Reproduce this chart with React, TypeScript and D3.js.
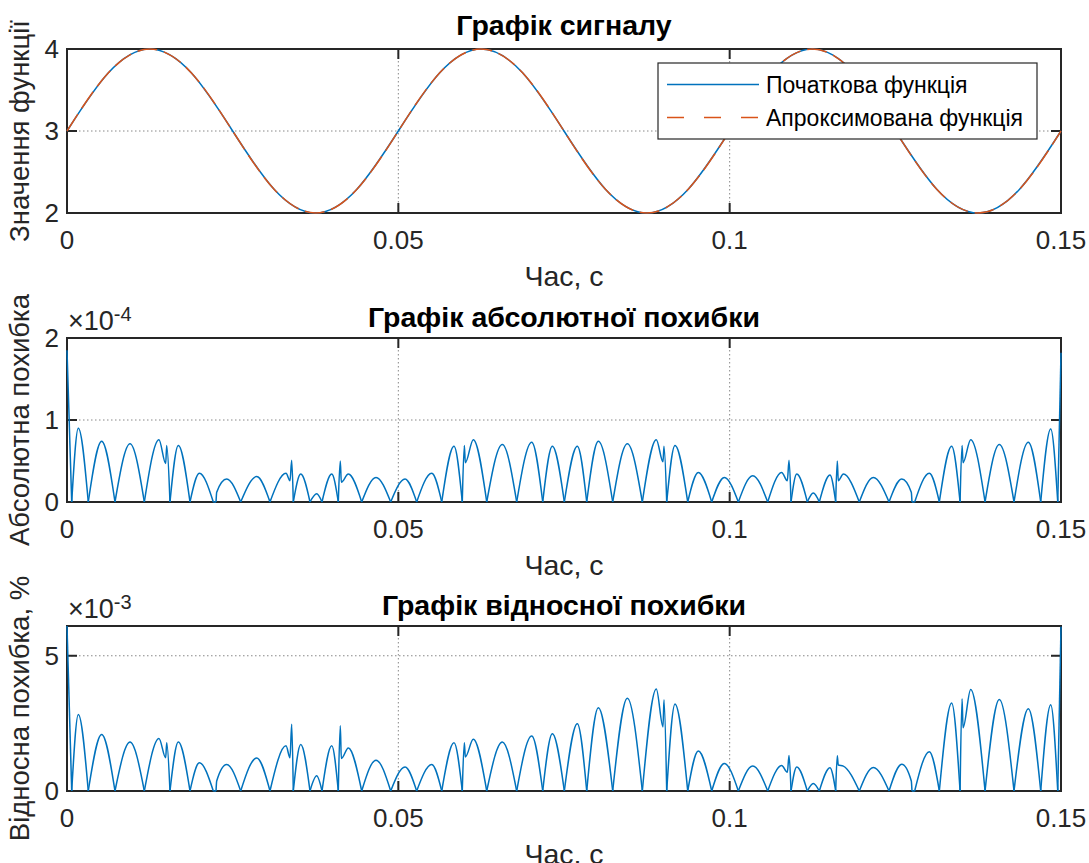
import React from 'react';
import * as d3 from 'd3';

// ---------- data ----------
// time grid of the signal plot, s
const sigT = [
  0, 0.00625, 0.0125, 0.01875, 0.025, 0.03125, 0.0375, 0.04375, 0.05,
  0.05625, 0.0625, 0.06875, 0.075, 0.08125, 0.0875, 0.09375, 0.1,
  0.10625, 0.1125, 0.11875, 0.125, 0.13125, 0.1375, 0.14375, 0.15,
];
// original function values
const origV = [
  3, 3.71, 4, 3.71, 3, 2.29, 2, 2.29, 3,
  3.71, 4, 3.71, 3, 2.29, 2, 2.29, 3,
  3.71, 4, 3.71, 3, 2.29, 2, 2.29, 3,
];
// approximated function values (visually identical)
const approxV = [
  3, 3.71, 4, 3.71, 3, 2.29, 2, 2.29, 3,
  3.71, 4, 3.71, 3, 2.29, 2, 2.29, 3,
  3.71, 4, 3.71, 3, 2.29, 2, 2.29, 3,
];

// key points of the error curves (zeros, peaks, spikes), s
const errT = [
  0, 0.00071, 0.00171, 0.00321, 0.00523, 0.00724, 0.00951, 0.01167, 0.01388, 0.01489,
  0.01505, 0.01554, 0.0168, 0.01856, 0.01997, 0.02208, 0.02249, 0.02259, 0.0241, 0.02621,
  0.02863, 0.03063, 0.03305, 0.03365, 0.03391, 0.03415, 0.03527, 0.03667, 0.03768, 0.03848,
  0.03995, 0.04094, 0.04124, 0.0414, 0.04245, 0.04447, 0.04663, 0.04885, 0.05101, 0.05277,
  0.05504, 0.05655, 0.0584, 0.05965, 0.05996, 0.06011, 0.06131, 0.06334, 0.06569, 0.06786,
  0.07013, 0.07179, 0.07324, 0.07505, 0.07701, 0.07843, 0.08018, 0.08235, 0.08456, 0.08682,
  0.08893, 0.08994, 0.09009, 0.0905, 0.09175, 0.09367, 0.09527, 0.09729, 0.09919, 0.10131,
  0.10348, 0.10574, 0.10785, 0.1087, 0.10896, 0.10926, 0.11012, 0.11172, 0.11262, 0.11353,
  0.11514, 0.116, 0.11624, 0.11639, 0.11715, 0.11956, 0.12168, 0.12405, 0.12596, 0.12741,
  0.12751, 0.12792, 0.13013, 0.13164, 0.1335, 0.13477, 0.13507, 0.13522, 0.13637, 0.13854,
  0.14069, 0.14291, 0.14507, 0.14694, 0.14845, 0.14951, 0.15,
];
// absolute error, x1e-4
const absErr = [
  1.85, 0, 0.9, 0, 0.74, 0, 0.71, 0, 0.76, 0.47,
  0.69, 0, 0.69, 0, 0.35, 0, 0, 0.12, 0.28, 0,
  0.31, 0, 0.35, 0.26, 0.51, 0, 0.34, 0, 0.1, 0,
  0.34, 0, 0.5, 0.24, 0.34, 0, 0.3, 0, 0.28, 0,
  0.35, 0, 0.68, 0, 0.69, 0.48, 0.76, 0, 0.7, 0,
  0.73, 0, 0.68, 0, 0.68, 0, 0.74, 0, 0.71, 0,
  0.76, 0.49, 0.68, 0, 0.69, 0, 0.36, 0, 0.3, 0,
  0.32, 0, 0.36, 0.26, 0.51, 0, 0.34, 0, 0.11, 0,
  0.33, 0, 0.5, 0.26, 0.34, 0, 0.3, 0, 0.28, 0.12,
  0, 0, 0.35, 0, 0.68, 0, 0.69, 0.48, 0.76, 0,
  0.7, 0, 0.73, 0, 0.89, 0, 1.82,
];
// relative error, %, x1e-3
const relErr = [
  6.1, 0, 2.83, 0, 2.09, 0, 1.81, 0, 1.94, 1.23,
  1.78, 0, 1.81, 0, 1.04, 0, 0, 0.37, 0.98, 0,
  1.22, 0, 1.67, 1.23, 2.47, 0, 1.72, 0, 0.56, 0,
  1.67, 0, 2.41, 1.2, 1.59, 0, 1.14, 0, 0.89, 0,
  0.98, 0, 1.78, 0, 1.78, 1.26, 1.91, 0, 1.81, 0,
  2.03, 0, 2.12, 0, 2.49, 0, 3.08, 0, 3.43, 0,
  3.77, 2.37, 3.37, 0, 3.22, 0, 1.48, 0, 1.02, 0,
  0.92, 0, 0.94, 0.69, 1.31, 0, 0.89, 0, 0.28, 0,
  0.86, 0, 1.3, 0.96, 0.92, 0, 0.87, 0, 0.99, 0.37,
  0, 0, 1.45, 0, 3.25, 0, 3.41, 2.34, 3.75, 0,
  3.38, 0, 3.04, 0, 3.19, 0, 6.07,
];

const xTicks = [0, 0.05, 0.1, 0.15];
const xTickLabels = ['0', '0.05', '0.1', '0.15'];
const sigYTicks = [2, 3, 4];
const absYTicks = [0, 1, 2];
const relYTicks = [0, 5];

const legendLabels = ['Початкова функція', 'Апроксимована функція'];

// ---------- styling ----------
const W = 1089;
const H = 863;
const FONT = '"Liberation Sans", Arial, Helvetica, sans-serif';
const AX = '#262626';
const BLUE = '#0072BD';
const ORANGE = '#D95319';
const X_LEFT = 67;
const X_RIGHT = 1061;
const TICK = 10;

const x = d3.scaleLinear().domain([0, 0.15]).range([X_LEFT, X_RIGHT]);

function segments(t: number[], v: number[]): [number, number][][] {
  const segs: [number, number][][] = [];
  let cur: [number, number][] = [];
  for (let i = 0; i < t.length; i++) {
    cur.push([t[i], v[i]]);
    if (v[i] === 0 && cur.length > 1) {
      segs.push(cur);
      cur = [[t[i], v[i]]];
    }
  }
  if (cur.length > 1) segs.push(cur);
  return segs;
}

type PanelProps = {
  top: number;
  bottom: number;
  yDomain: [number, number];
  yTicks: number[];
  title: string;
  titleY: number;
  ylabel: string;
  exponent?: string;
  children: (y: d3.ScaleLinear<number, number>) => React.ReactNode;
};

function Panel({ top, bottom, yDomain, yTicks, title, titleY, ylabel, exponent, children }: PanelProps) {
  const y = d3.scaleLinear().domain(yDomain).range([bottom, top]);
  const mid = (top + bottom) / 2;
  return (
    <g>
      {/* grid */}
      {xTicks.map((t, i) => (
        <line key={'gx' + i} x1={x(t)} x2={x(t)} y1={top} y2={bottom}
          stroke="#555" strokeOpacity={0.7} strokeWidth={1} strokeDasharray="1.5,2.5" />
      ))}
      {yTicks.map((t, i) => (
        <line key={'gy' + i} x1={X_LEFT} x2={X_RIGHT} y1={y(t)} y2={y(t)}
          stroke="#555" strokeOpacity={0.7} strokeWidth={1} strokeDasharray="1.5,2.5" />
      ))}
      {/* box */}
      <rect x={X_LEFT} y={top} width={X_RIGHT - X_LEFT} height={bottom - top}
        fill="none" stroke={AX} strokeWidth={2} />
      {/* ticks */}
      {xTicks.map((t, i) => (
        <g key={'tx' + i}>
          <line x1={x(t)} x2={x(t)} y1={bottom} y2={bottom - TICK} stroke={AX} strokeWidth={2} />
          <line x1={x(t)} x2={x(t)} y1={top} y2={top + TICK} stroke={AX} strokeWidth={2} />
          <text x={x(t)} y={bottom + 36} textAnchor="middle" fontSize={26} fill={AX}>{xTickLabels[i]}</text>
        </g>
      ))}
      {yTicks.map((t, i) => (
        <g key={'ty' + i}>
          <line x1={X_LEFT} x2={X_LEFT + TICK} y1={y(t)} y2={y(t)} stroke={AX} strokeWidth={2} />
          <line x1={X_RIGHT} x2={X_RIGHT - TICK} y1={y(t)} y2={y(t)} stroke={AX} strokeWidth={2} />
          <text x={59} y={y(t)} dy="0.36em" textAnchor="end" fontSize={26} fill={AX}>{String(t)}</text>
        </g>
      ))}
      {/* data */}
      {children(y)}
      {/* labels */}
      <text x={(X_LEFT + X_RIGHT) / 2} y={titleY} textAnchor="middle" fontSize={28.5} fontWeight="bold" fill="#000">{title}</text>
      <text x={(X_LEFT + X_RIGHT) / 2} y={bottom + 73} textAnchor="middle" fontSize={28.5} fill={AX}>Час, с</text>
      <text transform={`translate(29,${mid}) rotate(-90)`} textAnchor="middle" fontSize={27.5} fill={AX}>{ylabel}</text>
      {exponent && (
        <text x={68} y={top - 8} fontSize={27} fill={AX}>
          ×10<tspan dy={-9} fontSize={20}>{exponent}</tspan>
        </text>
      )}
    </g>
  );
}

export default function App() {
  const lineCurve = d3.line<[number, number]>().curve(d3.curveMonotoneX);
  const absSegs = segments(errT, absErr);
  const relSegs = segments(errT, relErr);

  return (
    <svg width={W} height={H} style={{ position: 'absolute', left: 0, top: 0, background: '#fff' }}
      fontFamily={FONT}>
      <rect width={W} height={H} fill="#fff" />
      <Panel top={49} bottom={213} yDomain={[2, 4]} yTicks={sigYTicks}
        title="Графік сигналу" titleY={35} ylabel="Значення функції">
        {(y) => {
          const ln = d3.line<number>().x((_, i) => x(sigT[i])).y((d) => y(d)).curve(d3.curveNatural);
          return (
            <g>
              <path d={ln(origV) || ''} fill="none" stroke={BLUE} strokeWidth={1.5} />
              <path d={ln(approxV) || ''} fill="none" stroke={ORANGE} strokeWidth={1.5} strokeDasharray="20,7" />
              {/* legend */}
              <rect x={658} y={63} width={379} height={76} fill="#fff" stroke={AX} strokeWidth={1.2} />
              <line x1={667} x2={759} y1={84.5} y2={84.5} stroke={BLUE} strokeWidth={1.5} />
              <line x1={667} x2={759} y1={117.5} y2={117.5} stroke={ORANGE} strokeWidth={1.5} strokeDasharray="17,20" />
              <text x={766} y={93} fontSize={23} fill="#000">{legendLabels[0]}</text>
              <text x={766} y={126} fontSize={23} fill="#000">{legendLabels[1]}</text>
            </g>
          );
        }}
      </Panel>
      <Panel top={338} bottom={502} yDomain={[0, 2]} yTicks={absYTicks}
        title="Графік абсолютної похибки" titleY={327} ylabel="Абсолютна похибка" exponent="-4">
        {(y) => (
          <g>
            {absSegs.map((s, i) => (
              <path key={i} d={lineCurve.x((d) => x(d[0])).y((d) => y(d[1]))(s) || ''}
                fill="none" stroke={BLUE} strokeWidth={1.5} strokeLinejoin="round" />
            ))}
          </g>
        )}
      </Panel>
      <Panel top={626} bottom={791} yDomain={[0, 6.1]} yTicks={relYTicks}
        title="Графік відносної похибки" titleY={615} ylabel="Відносна похибка, %" exponent="-3">
        {(y) => (
          <g>
            {relSegs.map((s, i) => (
              <path key={i} d={lineCurve.x((d) => x(d[0])).y((d) => y(d[1]))(s) || ''}
                fill="none" stroke={BLUE} strokeWidth={1.5} strokeLinejoin="round" />
            ))}
          </g>
        )}
      </Panel>
    </svg>
  );
}
